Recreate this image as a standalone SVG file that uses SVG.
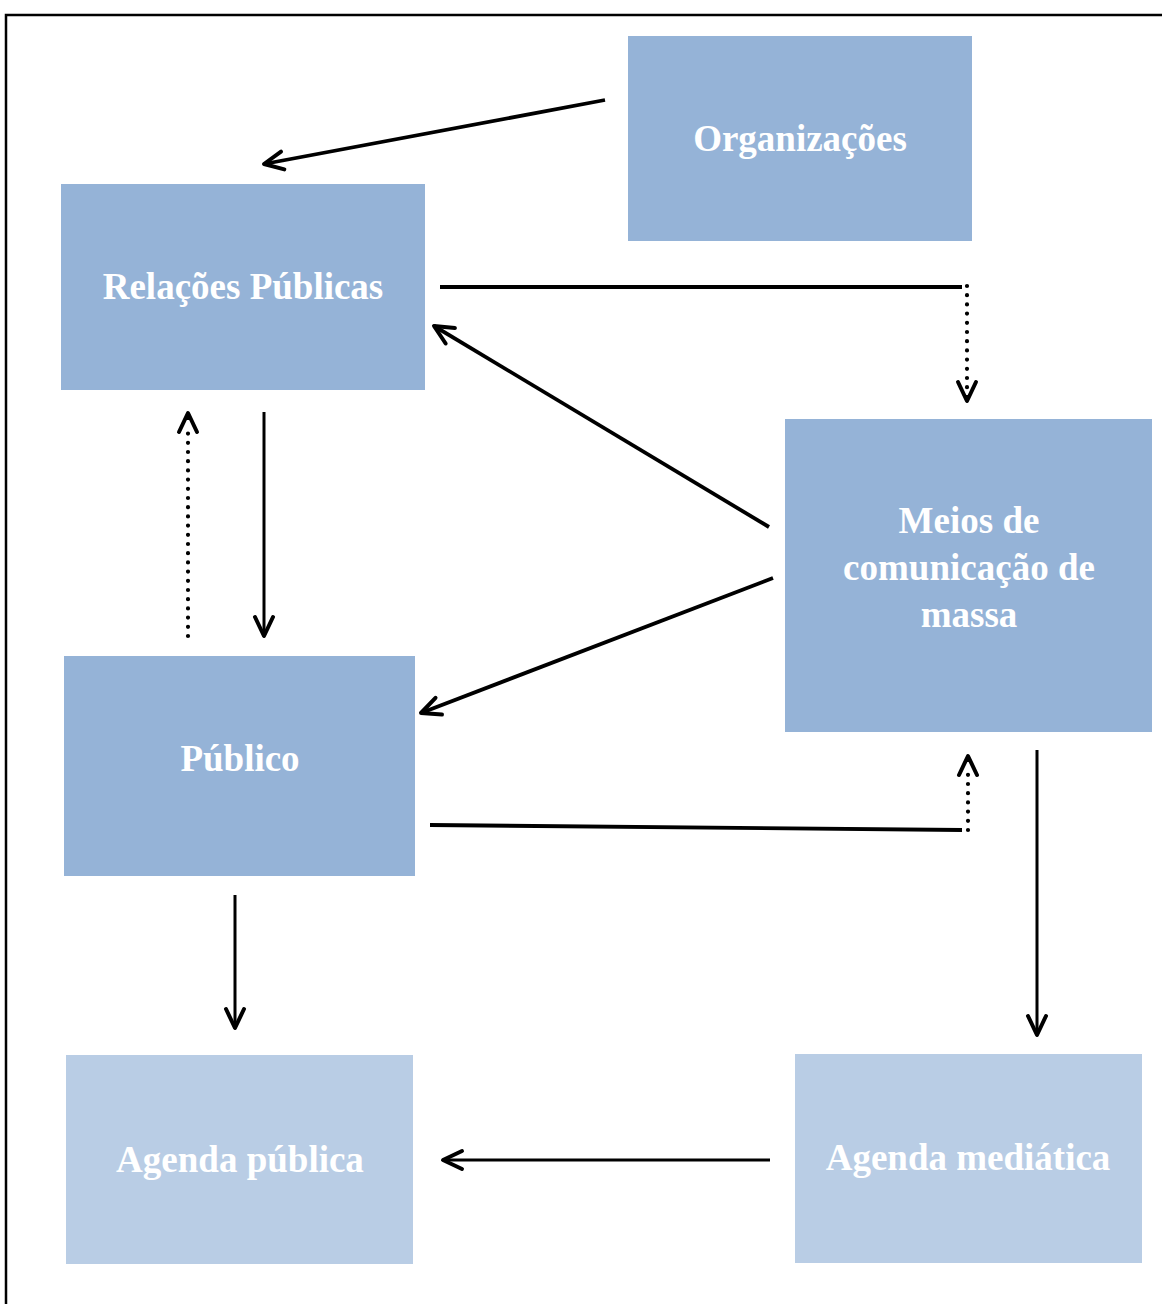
<svg xmlns="http://www.w3.org/2000/svg" width="1162" height="1304" viewBox="0 0 1162 1304">
<style>
.box1{fill:#95B3D7}
.box2{fill:#B9CDE5}
.lbl{font-family:"Liberation Serif","Times New Roman",serif;font-weight:bold;font-size:37px;fill:#fff;text-anchor:middle}
.ln{stroke:#000;fill:none;stroke-width:3.8}
.thin{stroke:#000;fill:none;stroke-width:3}
.dot{stroke:#000;fill:none;stroke-width:4.2;stroke-linecap:round;stroke-dasharray:0 9.2}
</style>
<defs>
<marker id="ah" markerUnits="userSpaceOnUse" viewBox="-24 -14 28 28" refX="0" refY="0" markerWidth="28" markerHeight="28" orient="auto" overflow="visible">
<path d="M-19,-9 L0,0 L-19,9" fill="none" stroke="#000" stroke-width="4" stroke-linecap="round" stroke-linejoin="round"/>
</marker>
</defs>
<rect width="1162" height="1304" fill="#fff"/>
<path d="M1170,15 H6 V1310" fill="none" stroke="#000" stroke-width="2.5"/>
<g id="org"><rect class="box1" x="628" y="36" width="344" height="205"/><text class="lbl" x="800" y="151">Organizações</text></g>
<g id="rp"><rect class="box1" x="61" y="184" width="364" height="206"/><text class="lbl" x="243" y="299">Relações Públicas</text></g>
<g id="meios"><rect class="box1" x="785" y="419" width="367" height="313"/><text class="lbl" x="969" y="533">Meios de</text><text class="lbl" x="969" y="580">comunicação de</text><text class="lbl" x="969" y="627">massa</text></g>
<g id="publico"><rect class="box1" x="64" y="656" width="351" height="220"/><text class="lbl" x="240" y="771">Público</text></g>
<g id="apub"><rect class="box2" x="66" y="1055" width="347" height="209"/><text class="lbl" x="240" y="1172">Agenda pública</text></g>
<g id="amed"><rect class="box2" x="795" y="1054" width="347" height="209"/><text class="lbl" x="968" y="1170">Agenda mediática</text></g>
<g id="connectors">
<line class="ln" x1="605" y1="100" x2="264" y2="164" marker-end="url(#ah)"/>
<line class="ln" x1="440" y1="287" x2="962" y2="287"/>
<line class="dot" x1="967" y1="286" x2="967" y2="388"/>
<line class="ln" x1="967" y1="395" x2="967" y2="401" stroke-width="0.01" marker-end="url(#ah)"/>
<line class="ln" x1="769" y1="527" x2="434" y2="326" marker-end="url(#ah)"/>
<line class="ln" x1="773" y1="578" x2="421" y2="713" marker-end="url(#ah)"/>
<line class="dot" x1="188" y1="636" x2="188" y2="428"/>
<line class="ln" x1="188" y1="420" x2="188" y2="413" stroke-width="0.01" marker-end="url(#ah)"/>
<line class="thin" x1="264" y1="412" x2="264" y2="636" marker-end="url(#ah)"/>
<line class="ln" x1="430" y1="825" x2="962" y2="830"/>
<line class="dot" x1="968" y1="830" x2="968" y2="770"/>
<line class="ln" x1="968" y1="762" x2="968" y2="756" stroke-width="0.01" marker-end="url(#ah)"/>
<line class="thin" x1="1037" y1="750" x2="1037" y2="1035" marker-end="url(#ah)"/>
<line class="thin" x1="235" y1="895" x2="235" y2="1028" marker-end="url(#ah)"/>
<line class="thin" x1="770" y1="1160" x2="443" y2="1160" marker-end="url(#ah)"/>
</g>
</svg>
